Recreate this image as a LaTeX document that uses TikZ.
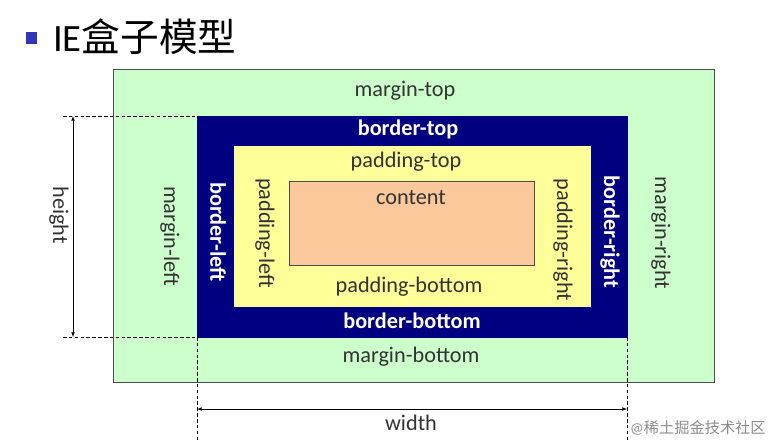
\documentclass[tikz,border=0pt]{standalone}
\usepackage{fontspec}
\setmainfont{Carlito}
\newfontfamily\cjk{Noto Sans CJK SC}
\usepackage{tikz}
\definecolor{marginc}{HTML}{CCFFCC}
\definecolor{borderc}{HTML}{000080}
\definecolor{paddingc}{HTML}{FFFF99}
\definecolor{contentc}{HTML}{FAC89A}
\definecolor{bulletc}{HTML}{3333BB}
\tikzset{
	lbl/.style={font=\fontsize{19}{19}\selectfont, text=black!80},
	blbl/.style={font=\fontsize{19}{19}\selectfont\bfseries, text=white},
	dim/.style={dash pattern=on 3pt off 2pt, thin},
}

\begin{document}
\begin{tikzpicture}[x=0.03cm, y=-0.03cm]
			%%%%% START %%%%%
			\useasboundingbox (0, 0) rectangle (778, 442);
			
			% title
			\fill[bulletc] (26, 32) rectangle (37, 44);
			\node[anchor=west, inner sep=0, font=\fontsize{33}{33}\selectfont] (title) at (53, 37) {IE{\cjk 盒子模型}};
			
			% boxes
			\draw[fill=marginc, color=black!70] (113, 69) rectangle (714, 382);
			\fill[fill=marginc] (113.5, 69.5) rectangle (713.5, 381.5);
			\draw[fill=borderc, draw=borderc] (197, 116) rectangle (627, 337);
			\draw[fill=paddingc, draw=paddingc] (234, 146) rectangle (590, 306);
			\draw[fill=contentc, draw=black!70] (289, 181) rectangle (534, 265);
			
			% labels
			\node[lbl] (mtop) at (405, 91) {margin-top};
			\node[blbl] (btop) at (408, 129) {border-top};
			\node[lbl] (ptop) at (406, 162) {padding-top};
			\node[lbl] (cont) at (411, 198) {content};
			\node[lbl] (pbot) at (409, 287) {padding-bottom};
			\node[blbl] (bbot) at (412, 321) {border-bottom};
			\node[lbl] (mbot) at (411, 357) {margin-bottom};
			
			\node[lbl, rotate=-90] (mleft) at (170, 236) {margin-left};
			\node[blbl, rotate=-90] (bleft) at (218, 232) {border-left};
			\node[lbl, rotate=-90] (pleft) at (265, 233) {padding-left};
			\node[lbl, rotate=-90] (pright) at (563, 240) {padding-right};
			\node[blbl, rotate=-90] (bright) at (610, 232) {border-right};
			\node[lbl, rotate=-90] (mright) at (661, 233) {margin-right};
			
			% height
			\coordinate (htop) at (73, 116);
			\coordinate (hbot) at (73, 337);
			\draw[dim] (63, 116) -- (197, 116);
			\draw[dim] (63, 337) -- (197, 337);
			\draw[<->, >=latex] (htop) -- (hbot);
			\node[lbl, rotate=-90] (height) at (59, 215) {height};
			
			% width
			\coordinate (wleft) at (197, 409);
			\coordinate (wright) at (627, 409);
			\draw[dim] (197, 337) -- (197, 442);
			\draw[dim] (627, 337) -- (627, 442);
			\draw[<->, >=latex] (wleft) -- (wright);
			\node[lbl] (width) at (411, 423) {width};
			
			\node[anchor=west, inner sep=0, text=black!45, font=\fontsize{13}{13}\selectfont] (mark) at (630, 428) {@{\cjk 稀土掘金技术社区}};
			%%%%% END %%%%%
\end{tikzpicture}
\end{document}
